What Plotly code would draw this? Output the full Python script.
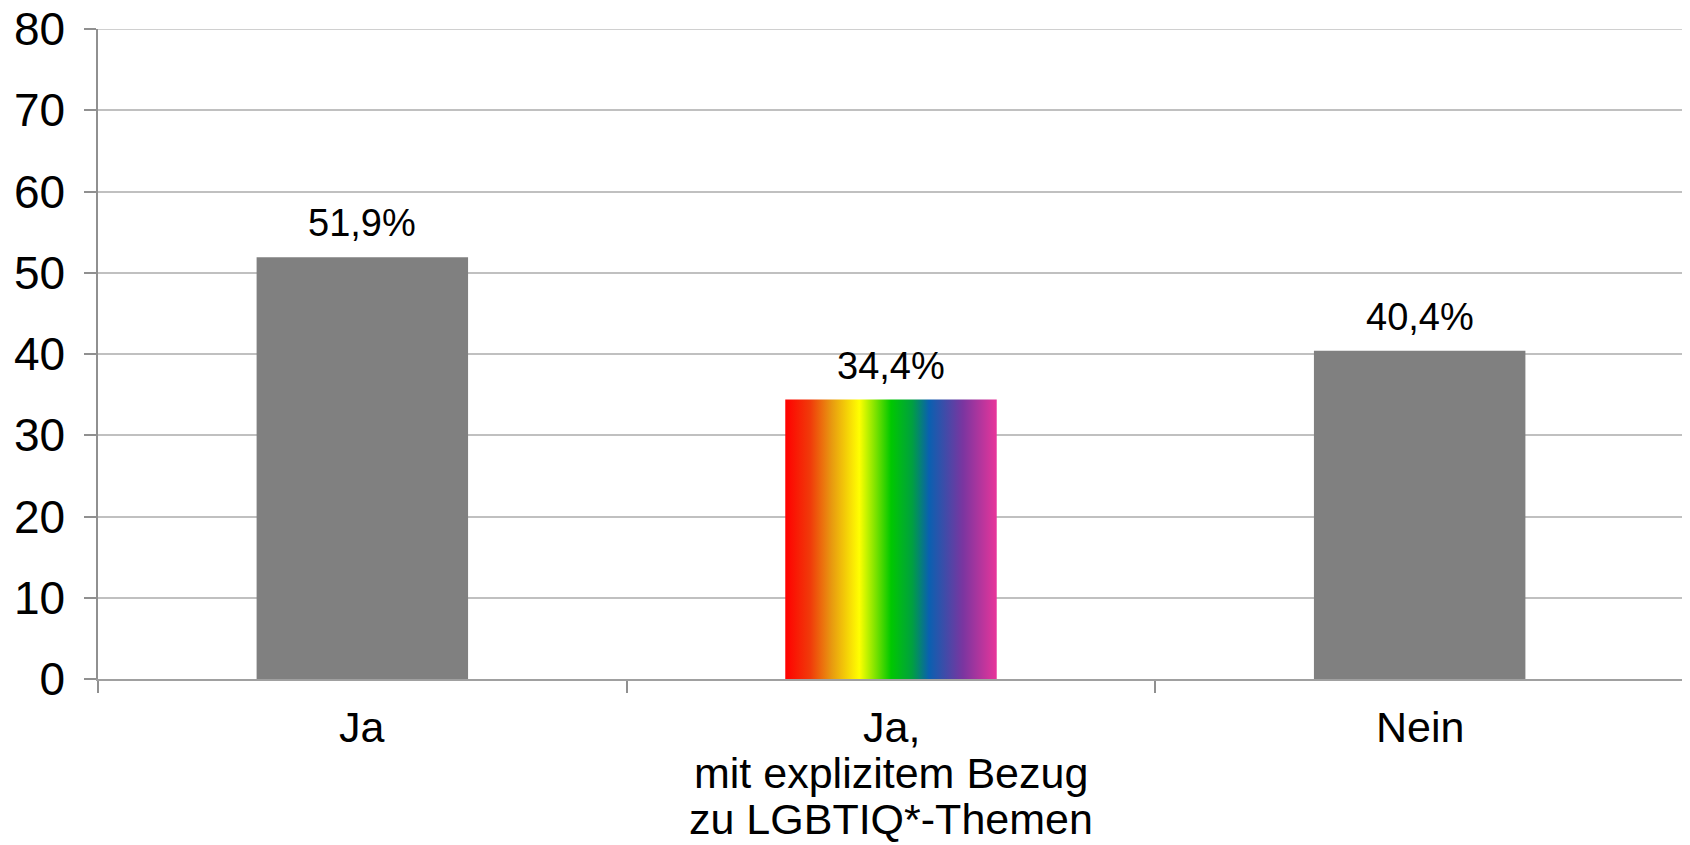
import plotly.graph_objects as go

# Daten
kategorien = ['Ja', 'Ja,<br>mit explizitem Bezug<br>zu LGBTIQ*-Themen', 'Nein']
werte = [51.9, 34.4, 40.4]
labels = ['51,9%', '34,4%', '40,4%']
y_ticks = [0, 10, 20, 30, 40, 50, 60, 70, 80]

grau = '#808080'
gitter = '#c0c0c0'
regenbogen = [
    [0.0, '#ff0000'], [0.12, '#f03c0a'], [0.22, '#e89a10'],
    [0.35, '#ffff00'], [0.5, '#00c800'], [0.6, '#00a040'],
    [0.68, '#0a60b0'], [0.84, '#7a35a0'], [1.0, '#e8359a'],
]
breite = 0.4
schrift = 'Liberation Sans, Arial, sans-serif'

x_pos = list(range(len(kategorien)))

fig = go.Figure()

# graue Balken
fig.add_trace(go.Bar(
    x=x_pos,
    y=werte,
    width=breite,
    marker=dict(color=[grau, 'rgba(0,0,0,0)', grau], line=dict(width=0)),
    hoverinfo='skip',
    showlegend=False,
))

# Regenbogen-Balken (mittlere Kategorie) als Fläche mit Farbverlauf
i = 1
x0, x1 = x_pos[i] - breite / 2, x_pos[i] + breite / 2
fig.add_trace(go.Scatter(
    x=[x0, x0, x1, x1, x0],
    y=[0, werte[i], werte[i], 0, 0],
    mode='lines',
    line=dict(width=0),
    fill='toself',
    fillgradient=dict(type='horizontal', colorscale=regenbogen),
    hoverinfo='skip',
    showlegend=False,
))

# Werte-Beschriftungen
for x, w, t in zip(x_pos, werte, labels):
    fig.add_annotation(
        x=x, y=w, text=t, showarrow=False,
        yanchor='bottom', yshift=11,
        font=dict(size=38, color='black', family=schrift),
    )

# Kategorie-Beschriftungen (zeilenweise, engerer Zeilenabstand)
for x, kat in zip(x_pos, kategorien):
    for k, zeile in enumerate(kat.split('<br>')):
        fig.add_annotation(
            x=x, y=0, text=zeile, showarrow=False,
            yanchor='top', yshift=-22 - k * 46,
            font=dict(size=43, color='black', family=schrift),
        )

# oberste Gitterlinie (plotly lässt sie am Rand weg)
fig.add_shape(
    type='line', xref='paper', x0=0, x1=1,
    y0=y_ticks[-1], y1=y_ticks[-1],
    line=dict(color=gitter, width=1.5),
    layer='below',
)

# Seite hat 8px Standardrand -> Figur etwas kleiner
fig.update_layout(
    width=1682,
    height=837,
    margin=dict(l=90, r=6, t=21, b=166),
    plot_bgcolor='white',
    paper_bgcolor='white',
    font=dict(family=schrift, size=36, color='black'),
)

fig.update_xaxes(
    range=[-0.5, 2.5],
    automargin=False,
    showticklabels=False,
    tickmode='array',
    tickvals=[-0.5, 0.5, 1.5, 2.5],
    ticks='outside',
    ticklen=12,
    tickcolor='#909090',
    tickwidth=1.5,
    showgrid=False,
    zeroline=False,
    showline=True,
    linecolor='#a0a0a0',
    linewidth=1.5,
)

fig.update_yaxes(
    range=[0, 80],
    automargin=False,
    tickmode='array',
    tickvals=y_ticks,
    ticks='outside',
    ticklen=12,
    tickcolor='#909090',
    tickwidth=1.5,
    showline=True,
    linecolor='#909090',
    linewidth=1.5,
    showgrid=True,
    gridcolor=gitter,
    gridwidth=1.5,
    zeroline=False,
    ticklabelstandoff=10,
    ticklabeloverflow='allow',
    tickfont=dict(size=46),
)

fig.write_html('out.html')
